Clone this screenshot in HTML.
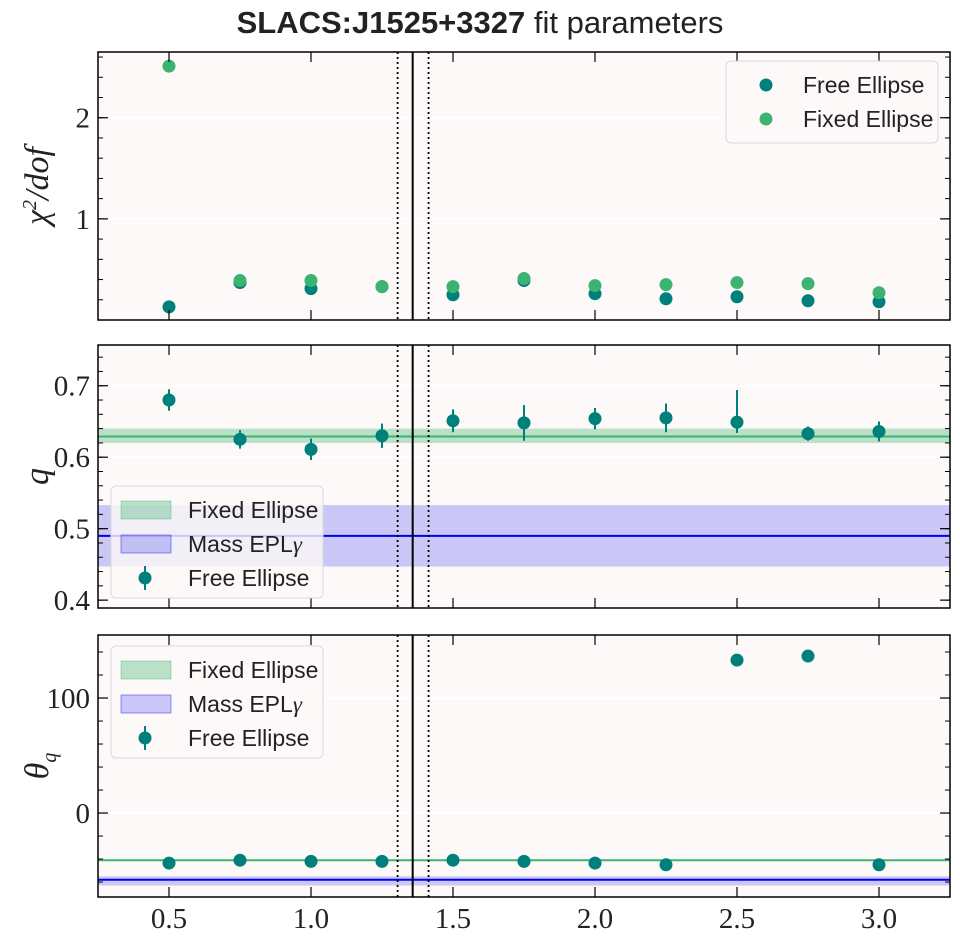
<!DOCTYPE html>
<html><head><meta charset="utf-8"><style>
html,body{margin:0;padding:0;background:#fff;}
svg{display:block;font-family:"Liberation Sans","DejaVu Sans",sans-serif;}
</style></head><body>
<svg id="c" width="960" height="944"></svg>
<script>
const xs=[0.5,0.75,1.0,1.25,1.5,1.75,2.0,2.25,2.5,2.75,3.0];
const chiFree=[0.13,0.37,0.31,0.33,0.25,0.39,0.26,0.21,0.23,0.19,0.18];
const chiFixed=[2.51,0.39,0.39,0.33,0.33,0.41,0.34,0.35,0.37,0.36,0.27];
const qFree=[0.680,0.625,0.611,0.630,0.651,0.648,0.654,0.655,0.649,0.633,0.636];
const qErrLo=[0.015,0.013,0.015,0.017,0.016,0.025,0.015,0.02,0.015,0.01,0.014];
const qErrHi=[0.015,0.013,0.015,0.017,0.016,0.025,0.015,0.02,0.045,0.01,0.014];
const qFixed=[0.629,0.620,0.640];
const qMass=[0.490,0.447,0.533];
const thFree=[-43.5,-41,-42,-42,-41,-42,-43.5,-45,133,136.5,-45];
const thErr=[0,0,0,0,0,0,0,0,5,0,0];
const thFixed=-41;
const thMass=[-58,-63,-55];
const vLines=[1.305,1.358,1.414];
const xTicks=[0.5,1.0,1.5,2.0,2.5,3.0];
const xTickLabels=["0.5","1.0","1.5","2.0","2.5","3.0"];

const NS="http://www.w3.org/2000/svg";
const svg=document.getElementById('c');
function el(t,a,p){const e=document.createElementNS(NS,t);for(const k in a)e.setAttribute(k,a[k]);(p||svg).appendChild(e);return e;}
const X0=98,X1=950,xmin=0.25,xmax=3.25;
const sx=v=>X0+(v-xmin)/(xmax-xmin)*(X1-X0);
const TEAL="#00807a",GREEN="#3cb371",BLUE="#0000ee";

const title=el('text',{x:480,y:33,'text-anchor':'middle','font-size':31,fill:'#222'});

title.innerHTML='<tspan font-weight="bold">SLACS:J1525+3327</tspan> fit parameters';

function panel(name,top,bot,ymin,ymax,majors,minorStep,labels,ylab){
  const g=el('g',{});
  
  
  const sy=v=>bot-(v-ymin)/(ymax-ymin)*(bot-top);
  el('rect',{x:X0,y:top,width:X1-X0,height:bot-top,fill:'#fdf9f8'},g);
  majors.forEach(m=>el('line',{x1:X0,x2:X1,y1:sy(m),y2:sy(m),stroke:'#fff','stroke-width':1.5},g));
  const clip=el('clipPath',{id:'cl'+name},g);
  el('rect',{x:X0,y:top,width:X1-X0,height:bot-top},clip);
  const inner=el('g',{'clip-path':'url(#cl'+name+')'},g);
  return {g,inner,sy,finish(){
    vLines.forEach((v,i)=>{const l=el('line',{x1:sx(v),x2:sx(v),y1:top,y2:bot,stroke:'#000','stroke-width':i==1?2:1.8,'stroke-dasharray':i==1?'':'2,3'},g);
      });
    el('rect',{x:X0,y:top,width:X1-X0,height:bot-top,fill:'none',stroke:'#000','stroke-width':1.5},g);
    for(let v=Math.ceil(ymin/minorStep)*minorStep;v<=ymax;v+=minorStep){const y=sy(v);
      el('line',{x1:X0,x2:X0+5,y1:y,y2:y,stroke:'#000','stroke-width':1},g);el('line',{x1:X1,x2:X1-5,y1:y,y2:y,stroke:'#000','stroke-width':1},g);}
    majors.forEach((m,i)=>{const y=sy(m);
      el('line',{x1:X0,x2:X0+10,y1:y,y2:y,stroke:'#000','stroke-width':1.2},g);el('line',{x1:X1,x2:X1-10,y1:y,y2:y,stroke:'#000','stroke-width':1.2},g);
      const t=el('text',{x:X0-8,y:y+10,'text-anchor':'end','font-size':29,fill:'#222','font-family':'Liberation Serif,serif'},g);t.textContent=labels[i];
      });
    xTicks.forEach(v=>{el('line',{x1:sx(v),x2:sx(v),y1:bot,y2:bot-10,stroke:'#000','stroke-width':1.2},g);el('line',{x1:sx(v),x2:sx(v),y1:top,y2:top+10,stroke:'#000','stroke-width':1.2},g);});
    const yl=el('text',{transform:`translate(48,${(top+bot)/2}) rotate(-90)`,'text-anchor':'middle','font-size':34,'font-style':'italic',fill:'#222','font-family':'Liberation Serif,serif'},g);
    yl.innerHTML=ylab;
  }};
}
function dot(p,x,y,c,name){const d=el('circle',{cx:sx(x),cy:p.sy(y),r:6.5,fill:c},p.inner);}

const p1=panel('chi2-panel',52,320,0,2.65,[1,2],0.2,['1','2'],'χ<tspan font-size="20" dy="-12">2</tspan><tspan dy="12">/dof</tspan>');
xs.forEach((x,i)=>dot(p1,x,chiFree[i],TEAL,'chi2-free-point'));
xs.forEach((x,i)=>dot(p1,x,chiFixed[i],GREEN,'chi2-fixed-point'));
p1.finish();
const p2=panel('q-panel',345,608,0.389,0.757,[0.4,0.5,0.6,0.7],0.02,['0.4','0.5','0.6','0.7'],'q');
function band(p,v,c,op,name){const b=el('rect',{x:X0,width:X1-X0,y:p.sy(v[2]),height:p.sy(v[1])-p.sy(v[2]),fill:c,'fill-opacity':op},p.inner);
  
  const l=el('line',{x1:X0,x2:X1,y1:p.sy(v[0]),y2:p.sy(v[0]),stroke:c,'stroke-width':2},p.inner);}
band(p2,qFixed,GREEN,0.35,'fixed-ellipse');
band(p2,qMass,BLUE,0.2,'mass-epl');
xs.forEach((x,i)=>{const e=el('line',{x1:sx(x),x2:sx(x),y1:p2.sy(qFree[i]-qErrLo[i]),y2:p2.sy(qFree[i]+qErrHi[i]),stroke:TEAL,'stroke-width':2},p2.inner);
  dot(p2,x,qFree[i],TEAL,'q-free-point');});
p2.finish();
const p3=panel('theta-panel',635,897,-73,154.8,[0,100],20,['0','100'],'θ<tspan font-size="20" dy="8">q</tspan>');
band(p3,[thFixed,thFixed,thFixed],GREEN,0.35,'theta-fixed-ellipse');
band(p3,thMass,BLUE,0.2,'theta-mass-epl');
xs.forEach((x,i)=>{if(thErr[i]){const e=el('line',{x1:sx(x),x2:sx(x),y1:p3.sy(thFree[i]-thErr[i]),y2:p3.sy(thFree[i]+thErr[i]),stroke:TEAL,'stroke-width':2},p3.inner);
  }dot(p3,x,thFree[i],TEAL,'theta-free-point');});
p3.finish();
xTicks.forEach((v,i)=>{const t=el('text',{x:sx(v),y:928,'text-anchor':'middle','font-size':29,fill:'#222','font-family':'Liberation Serif,serif'});t.textContent=xTickLabels[i];
  });

function legend(name,x,y,w,h,items){const g=el('g',{});
  el('rect',{x,y,width:w,height:h,rx:5,fill:'#fdf9f8','fill-opacity':0.8,stroke:'#d8d8d8','stroke-width':1},g);
  items.forEach((it,i)=>{const cy=y+24+i*34;
    if(it.t=='dot')el('circle',{cx:x+40,cy,r:6.5,fill:it.c},g);
    else if(it.t=='patch')el('rect',{x:x+10,y:cy-9,width:50,height:18,fill:it.c,'fill-opacity':it.o,stroke:it.c,'stroke-opacity':0.4},g);
    else{el('line',{x1:x+34,x2:x+34,y1:cy-12,y2:cy+12,stroke:it.c,'stroke-width':2},g);el('circle',{cx:x+34,cy,r:6.5,fill:it.c},g);}
    const t=el('text',{x:x+77,y:cy+8,'font-size':23,fill:'#222'},g);t.innerHTML=it.l;
    });}
legend('chi2-legend',726,61,212,82,[{t:'dot',c:TEAL,l:'Free Ellipse'},{t:'dot',c:GREEN,l:'Fixed Ellipse'}]);
const li=[{t:'patch',c:GREEN,o:0.35,l:'Fixed Ellipse'},{t:'patch',c:BLUE,o:0.2,l:'Mass EPL<tspan font-family="Liberation Serif,serif" font-style="italic">γ</tspan>'},{t:'err',c:TEAL,l:'Free Ellipse'}];
legend('q-legend',111,486,212,112,li);
legend('theta-legend',111,646,212,112,li);
</script>
</body></html>
